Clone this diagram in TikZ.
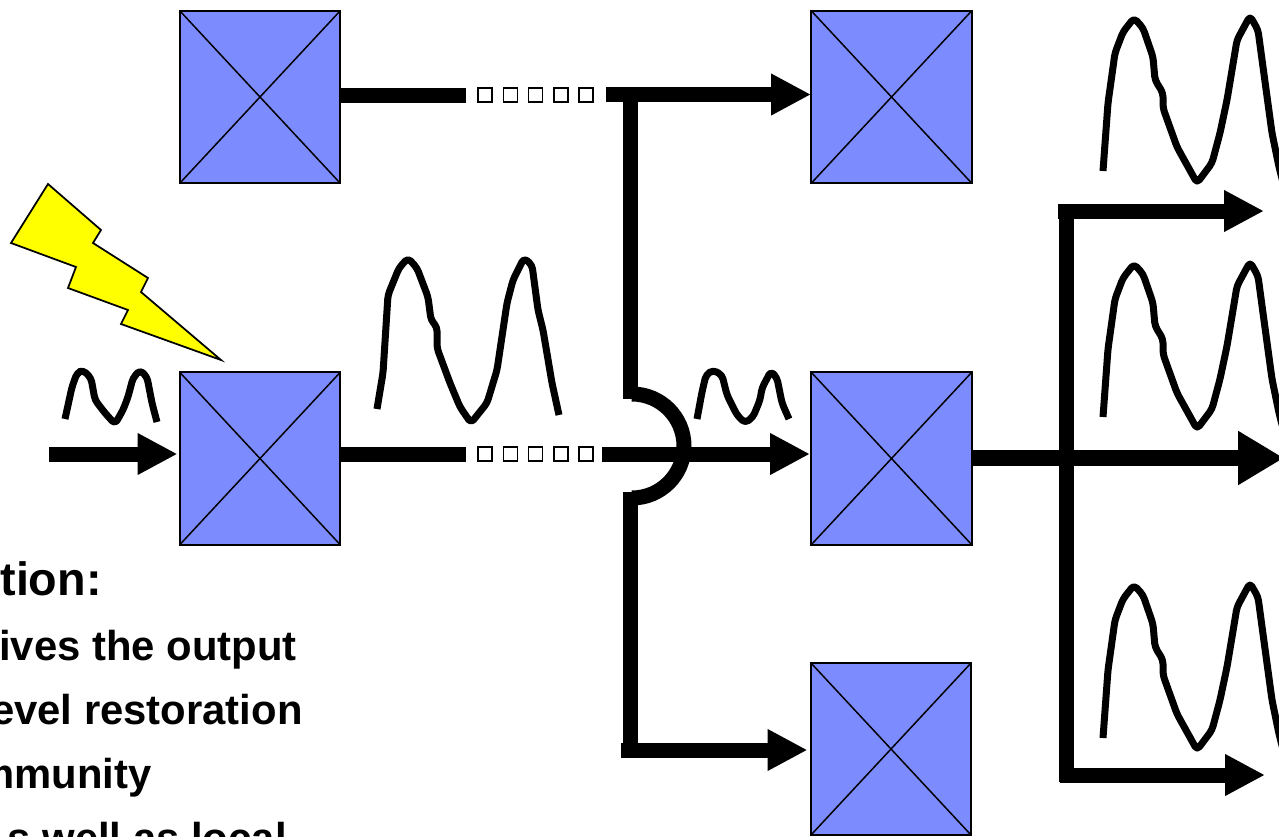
\documentclass[tikz,border=0pt]{standalone}
\usepackage{fontspec}
\setmainfont{Liberation Sans}
\usepackage{tikz}
\usetikzlibrary{arrows.meta, positioning, shapes}
\usepackage{xcolor}
\definecolor{switchblue}{RGB}{124,140,255}
\definecolor{flashyellow}{RGB}{255,255,0}

\begin{document}
\begin{tikzpicture}[x=0.02cm, y=-0.02cm]
    \tikzstyle{block} = [rectangle, draw, line width=0.04cm, fill=switchblue, minimum width=3.22cm, minimum height=3.46cm, inner sep=0pt,
        path picture={\draw[line width=0.03cm] (path picture bounding box.north west) -- (path picture bounding box.south east) (path picture bounding box.north east) -- (path picture bounding box.south west);}]
    \tikzstyle{dot} = [rectangle, draw, line width=0.035cm, fill=white, minimum size=0.28cm, inner sep=0pt]
    \tikzstyle{line} = [draw, line width=0.3cm]
    \tikzstyle{arrow} = [draw, line width=0.3cm, -{Triangle[length=0.8cm, width=0.78cm]}]
    \tikzstyle{wave} = [draw, line width=0.14cm, line join=round, rounded corners=0.08cm]
    \tikzstyle{heading} = [anchor=base east, inner sep=0pt, font=\fontsize{26.6}{30}\selectfont\bfseries]
    \tikzstyle{bullet} = [anchor=base east, inner sep=0pt, font=\fontsize{23.8}{27}\selectfont\bfseries]

    \path[use as bounding box, clip] (0,0) rectangle (1279,836);

    % switches
    \node[block] (topin) at (260,97) {};
    \node[block] (midin) at (260,458.5) {};
    \node[block] (topout) at (891.5,97) {};
    \node[block] (midout) at (891.5,458.5) {};
    \node[block] (lowout) at (891,749) {};

    % free ends of the connectors
    \coordinate (topgap) at (466,95);
    \coordinate (midgap) at (466,454);
    \coordinate (topfork) at (606,94.5);
    \coordinate (midfork) at (602,454);
    \coordinate (lowfork) at (621,750);
    \coordinate (inbeam) at (49,454);
    \coordinate (trunktop) at (630,94);
    \coordinate (trunkup) at (630,399);
    \coordinate (arcup) at (632,394);
    \coordinate (trunkdown) at (630,492);
    \coordinate (trunkend) at (630,757);
    \coordinate (outtop) at (1058,211);
    \coordinate (outlow) at (1060,775);
    \coordinate (outhigh) at (1066,204);
    \coordinate (outdown) at (1066,782);
    \coordinate (outend) at (1284,458);

    % dotted parts of the lines
    \foreach \i/\x in {a/485, b/510.5, c/535.5, d/561, e/586} {
        \node[dot] (topdot\i) at (\x,95) {};
        \node[dot] (middot\i) at (\x,454) {};
    }

    % connectors
    \path [line] (topgap -| topin.east) -- (topgap);
    \path [line] (midgap -| midin.east) -- (midgap);
    \path [arrow] (topfork) -- ([xshift=0.02cm]topout.west |- topfork);
    \path [arrow] (midfork) -- (midout.west |- midfork);
    \path [arrow] (lowfork) -- ([xshift=-0.04cm]lowout.west |- lowfork);
    \path [arrow] (inbeam) -- ([xshift=-0.02cm]midin.west |- inbeam);
    \path [line] (trunktop) -- (trunkup);
    \path [line] (arcup) arc[start angle=90, end angle=-90, radius=1.04cm];
    \path [line] (trunkdown) -- (trunkend);
    \path [line] (outhigh) -- (outdown);
    \path [arrow] (outtop) -- (1264,211);
    \path [arrow] (outlow) -- (1265,775);
    \draw[line width=0.32cm, -{Triangle[length=0.92cm, width=1.02cm]}] (midout.east |- outend) -- (outend);

    % lightning
    \draw[line width=0.035cm, fill=flashyellow, line join=miter] (48,184) -- (101,230) -- (93,243) -- (148,278) -- (141,292) -- (221,360) -- (121,324) -- (128,310) -- (68,288) -- (76,267) -- (11,243) -- cycle;

    % pulses
    \path [wave] (65,419) -- (72,387) -- (77,373) -- (83,370) -- (91,378) -- (95,400) -- (105,413) -- (115,424) -- (123,410) -- (128,397) -- (133,378) -- (140,370) -- (147,377) -- (152,403) -- (157,422);
    \path [wave] (377,409) -- (383,373) -- (388,295) -- (399,268) -- (408,258) -- (417,268) -- (428,297) -- (431,320) -- (437,327) -- (437,348) -- (450,383) -- (460,407) -- (471,423) -- (487,403) -- (497,370) -- (507,303) -- (513,280) -- (524,258) -- (532,265) -- (538,310) -- (543,330) -- (552,383) -- (559,415);
    \path [wave] (697,419) -- (702,392) -- (706,375) -- (713,370) -- (722,375) -- (727,395) -- (737,415) -- (745,423) -- (753,417) -- (760,400) -- (762,388) -- (771,371) -- (777,378) -- (782,403) -- (789,419);
    \foreach \dy in {0, 246, 567} {
        \path [wave, yshift=-\dy*0.02cm] (1103,171) -- (1108,103) -- (1115,53) -- (1123,32) -- (1134,18) -- (1143,28) -- (1153,57) -- (1155,80) -- (1163,93) -- (1163,108) -- (1177,147) -- (1197,183) -- (1212,163) -- (1220,133) -- (1227,100) -- (1237,40) -- (1250,16) -- (1258,30) -- (1263,67) -- (1272,133) -- (1279,167) -- (1285,190);
    }

    % text
    \node[heading] (title) at (102,595) {tion:};
    \node[bullet] (lineone) at (297,660) {ives the output};
    \node[bullet] (linetwo) at (303,724) {evel restoration};
    \node[bullet] (linethree) at (152,788) {mmunity};
    \node[bullet] (linefour) at (287,852) {s well as local};
\end{tikzpicture}
\end{document}
